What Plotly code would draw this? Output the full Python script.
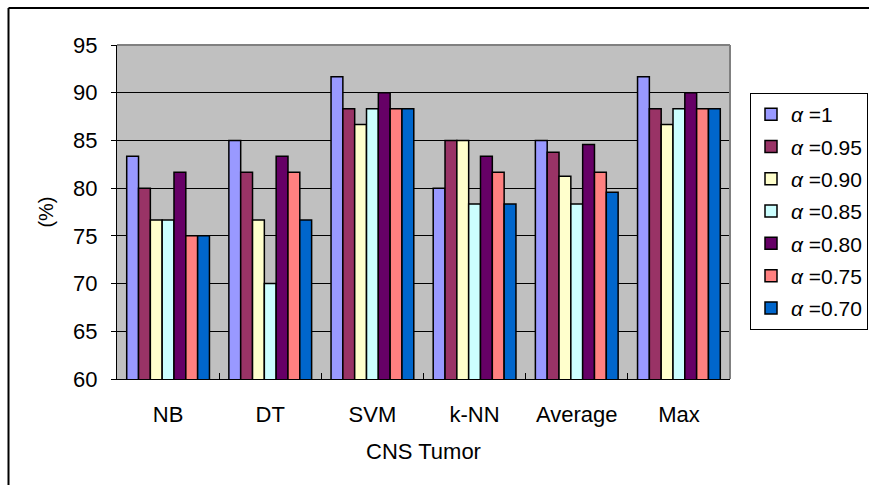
import plotly.graph_objects as go

categories = ["NB", "DT", "SVM", "k-NN", "Average", "Max"]
series_names = ["<i>α</i> =1", "<i>α</i> =0.95", "<i>α</i> =0.90", "<i>α</i> =0.85",
                "<i>α</i> =0.80", "<i>α</i> =0.75", "<i>α</i> =0.70"]
alpha_100 = [83.33, 85.00, 91.67, 80.00, 85.00, 91.67]
alpha_095 = [80.00, 81.67, 88.33, 85.00, 83.75, 88.33]
alpha_090 = [76.67, 76.67, 86.67, 85.00, 81.25, 86.67]
alpha_085 = [76.67, 70.00, 88.33, 78.33, 78.33, 88.33]
alpha_080 = [81.67, 83.33, 90.00, 83.33, 84.58, 90.00]
alpha_075 = [75.00, 81.67, 88.33, 81.67, 81.67, 88.33]
alpha_070 = [75.00, 76.67, 88.33, 78.33, 79.58, 88.33]
series_values = [alpha_100, alpha_095, alpha_090, alpha_085, alpha_080, alpha_075, alpha_070]
colors = ["#9999FF", "#993366", "#FFFFCC", "#CCFFFF", "#660066", "#FF8080", "#0066CC"]
y_ticks = [60, 65, 70, 75, 80, 85, 90, 95]

FONT = "Liberation Sans, Arial, sans-serif"

fig = go.Figure()
for i, (name, vals, col) in enumerate(zip(series_names, series_values, colors)):
    fig.add_trace(go.Bar(
        x=categories, y=vals, name=name, legendgroup=f"g{i}",
        marker=dict(color=col, line=dict(color="black", width=1.5)),
    ))

W, H = 869, 485
L, R, T, B = 117, 730, 45, 379
pw, ph = R - L, B - T


def px(xp):
    return (xp - L) / pw


def py(yp):
    return (B - yp) / ph


fig.update_layout(
    width=W, height=H,
    margin=dict(l=L, r=W - R, t=T, b=H - B, autoexpand=False),
    paper_bgcolor="white",
    plot_bgcolor="#C0C0C0",
    barmode="group", bargap=0.19, bargroupgap=0,
    font=dict(family=FONT, size=22, color="black"),
    showlegend=True,
    legend=dict(
        x=px(750), y=py(93), xanchor="left", yanchor="top",
        bordercolor="black", borderwidth=1, bgcolor="white",
        font=dict(family=FONT, size=21, color="black"),
        tracegroupgap=2, itemclick=False,
    ),
    xaxis=dict(
        type="category", showgrid=False,
        showline=True, linecolor="black", linewidth=1,
        ticks="inside", tickson="boundaries", ticklen=6, tickcolor="black",
        ticklabelstandoff=16,
        title=dict(text="CNS Tumor", font=dict(size=22), standoff=17),
    ),
    yaxis=dict(
        range=[60, 95], tickvals=y_ticks, ticktext=[str(v) for v in y_ticks],
        showgrid=True, gridcolor="black", gridwidth=1,
        showline=True, linecolor="black", linewidth=1,
        ticks="outside", ticklen=5, tickcolor="black",
        ticklabelstandoff=9, zeroline=False,
        title=dict(text="(%)", font=dict(size=20), standoff=14),
    ),
    shapes=[
        # grey plot-area border on top and right
        dict(type="line", xref="paper", yref="paper", x0=0, x1=1, y0=1, y1=1,
             line=dict(color="#808080", width=2)),
        dict(type="line", xref="paper", yref="paper", x0=1, x1=1, y0=0, y1=1,
             line=dict(color="#808080", width=2)),
        # outer chart frame (top and left edges)
        dict(type="line", xref="paper", yref="paper", x0=px(8.5), x1=px(W),
             y0=py(8), y1=py(8), line=dict(color="black", width=2)),
        dict(type="line", xref="paper", yref="paper", x0=px(8.5), x1=px(8.5),
             y0=py(8), y1=py(H), line=dict(color="black", width=2)),
    ],
)

fig.write_html("out.html")
